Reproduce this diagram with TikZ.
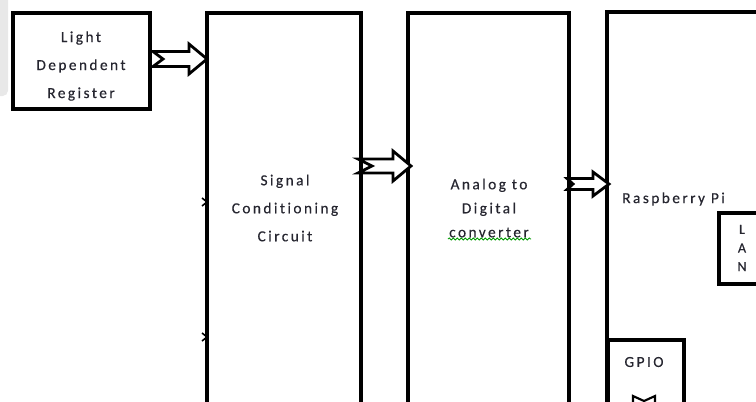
\documentclass[tikz,border=0pt]{standalone}
\usepackage{fontspec}
\setmainfont{Carlito}[LetterSpace=16,FakeBold=0.4,Ligatures=NoCommon]
\usetikzlibrary{calc,decorations.pathmorphing}
\definecolor{txt}{HTML}{262630}
\newcommand\blkarrow[6]{% tip, length, notch, head, shaft half, head half
  \draw[blk] ($(#1)+(-#2,-#5)$) -- ($(#1)+(-#4,-#5)$) -- ($(#1)+(-#4,-#6)$) -- (#1)
    -- ($(#1)+(-#4,#6)$) -- ($(#1)+(-#4,#5)$) -- ($(#1)+(-#2,#5)$) -- ($(#1)+(-#2+#3,0)$) -- cycle;}
\begin{document}
\begin{tikzpicture}[x=0.75pt,y=-0.75pt,
  box/.style={draw,line width=2.6pt,rectangle,inner sep=0pt,outer sep=0pt,anchor=north west},
  lbl/.style={font=\fontsize{11.5}{21}\selectfont,text=txt,align=center,inner sep=0pt},
  blk/.style={draw,line width=2.1pt,fill=white,line join=miter}]
\useasboundingbox (0,0) rectangle (756,401);
\clip (0,0) rectangle (756,401);
\fill[gray!18,rounded corners=4pt] (-10,-10) rectangle (8,96);
% boxes
\node[box,minimum width={137*0.75pt},minimum height={96*0.75pt}] (ldr) at (13,13) {};
\node[box,minimum width={154*0.75pt},minimum height={420*0.75pt}] (scc) at (207,13) {};
\node[box,minimum width={161*0.75pt},minimum height={420*0.75pt}] (adc) at (408,13) {};
\node[box,minimum width={200*0.75pt},minimum height={420*0.75pt}] (rpi) at (607,12) {};
\node[box,line width=3pt,minimum width={60*0.75pt},minimum height={71*0.75pt}] (lan) at (719,213) {};
\node[box,minimum width={76*0.75pt},minimum height={80*0.75pt}] (gpio) at (608,340) {};
% labels
\node[lbl] (ldrt) at (81,66) {Light\\Dependent\\Register};
\node[lbl] (scct) at (285,208) {Signal\\Conditioning\\Circuit};
\node[lbl,font=\fontsize{11.5}{18}\selectfont] (adct) at (489,208) {Analog to\\Digital\\converter};
\node[lbl,anchor=west] (rpit) at (622,199) {Raspberry Pi};
\node[lbl,font=\fontsize{10.5}{14}\selectfont] (lant) at (742,248) {L\\A\\N};
\node[lbl] (gpiot) at (644,362) {GPIO};
\draw[green!60!black,line width=0.6pt,decorate,decoration={snake,amplitude=0.8pt,segment length=3pt}]
  (448,239) -- (531,239);
% block arrows
\coordinate (t1) at ($(scc.north west)+(0,46)$);
\coordinate (t2) at ($(adc.north west)+(3,153)$);
\coordinate (t3) at ($(rpi.north west)+(2,172)$);
\blkarrow{t1}{54}{10}{18}{7.5}{15}
\blkarrow{t2}{53}{14}{18}{7}{15}
\blkarrow{t3}{42}{6}{16}{5.5}{12}
% small marks on the left edge of the conditioning circuit
\coordinate (m1) at ($(scc.north west)+(0,189)$);
\coordinate (m2) at ($(scc.north west)+(0,324)$);
\draw[line width=1.2pt] ($(m1)+(-5,-4)$) -- (m1) -- ($(m1)+(-5,4)$);
\draw[line width=1.2pt] ($(m2)+(-5,-4)$) -- (m2) -- ($(m2)+(-5,4)$);
% arrow leaving GPIO downwards
\coordinate (g1) at ($(gpio.north west)+(36,56)$);
\draw[blk,line width=1.6pt] ($(g1)+(-11,0)$) -- ($(g1)+(0,5)$) -- ($(g1)+(11,0)$) -- ($(g1)+(11,20)$) -- ($(g1)+(-11,20)$) -- cycle;
\end{tikzpicture}
\end{document}
